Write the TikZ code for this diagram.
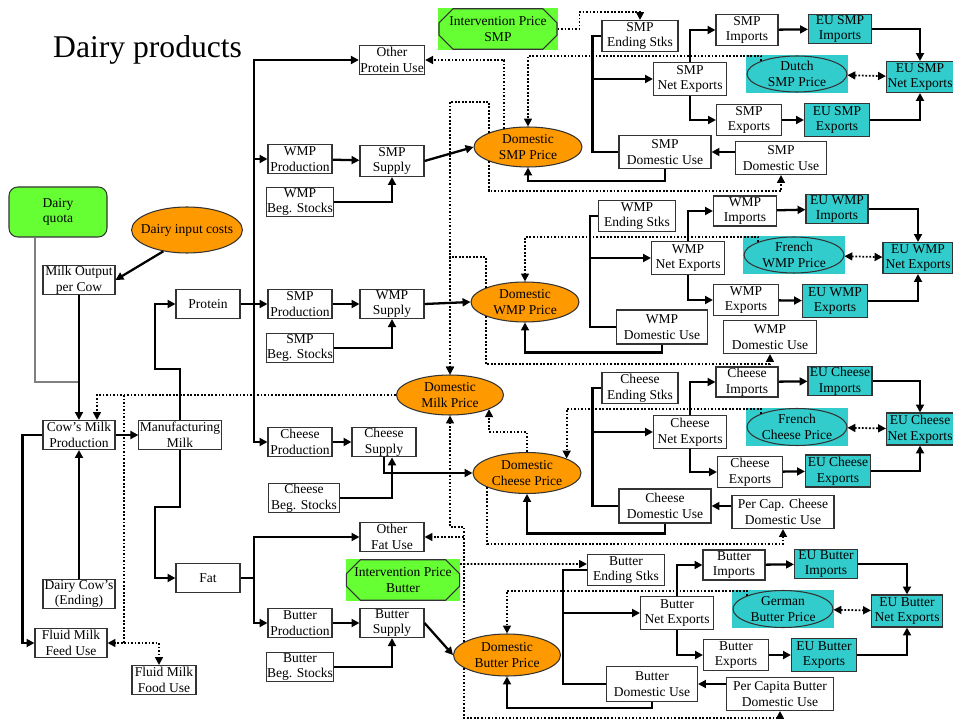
\documentclass[tikz,border=0pt]{standalone}
\usepackage{fontspec}
\setmainfont{Liberation Serif}
\usetikzlibrary{shapes.geometric,shapes.misc,arrows.meta,calc,backgrounds}
\definecolor{quotagreen}{HTML}{66FF33}
\definecolor{priceorange}{HTML}{FF9900}
\definecolor{euteal}{HTML}{33CCCC}
\begin{document}
\begin{tikzpicture}[x=0.02cm, y=-0.02cm,
  font=\fontsize{7.7}{8.9}\selectfont,
  >={Triangle[length=4.5pt,width=4.5pt]},
  boxw/.style={minimum width=#1*0.02cm},
  boxh/.style={minimum height=#1*0.02cm},
  box/.style={draw=black!80, line width=0.6pt, fill=white, align=center, inner sep=0.5pt, minimum width=1.28cm, minimum height=0.58cm},
  eubox/.style={box, fill=euteal},
  price/.style={ellipse, draw=black!80, line width=0.6pt, fill=priceorange, align=center, inner sep=0pt, minimum width=2.16cm, minimum height=0.8cm},
  forprice/.style={price, fill=euteal, minimum width=2cm, minimum height=0.72cm},
  intv/.style={chamfered rectangle, chamfered rectangle xsep=4pt, chamfered rectangle ysep=4pt, draw=black!80, line width=0.6pt, fill=quotagreen, align=center, inner sep=0.5pt, minimum height=0.7cm},
  flow/.style={->, line width=1.3pt},
  link/.style={line width=1.3pt},
  dotflow/.style={->, line width=1pt, densely dotted},
  dotboth/.style={<->, line width=1pt, densely dotted}]
\useasboundingbox (0,0) rectangle (953,719);
\node[font=\fontsize{18}{20}\selectfont, anchor=west] (title) at (47,50) {Dairy products};
\node[box, rounded corners=5pt, fill=quotagreen, boxw=98, boxh=50] (quota) at (58,212) {Dairy\\quota};
\node[price, inner xsep=-4pt, boxh=46] (inputc) at (187,230) {Dairy input costs};
\node[box, boxw=72] (milkout) at (79,280) {Milk Output\\per Cow};
\node[box, boxw=72] (cowmilk) at (79,435) {Cow’s Milk\\Production};
\node[box, boxw=78] (manmilk) at (180,435) {Manufacturing\\Milk};
\node[box, boxw=72] (cows) at (79,594) {Dairy Cow’s\\(Ending)};
\node[box, boxw=72] (feed) at (71,643) {Fluid Milk\\Feed Use};
\node[box] (food) at (164,680) {Fluid Milk\\Food Use};
\node[box] (protein) at (208,304) {Protein};
\node[box] (fat) at (208,578) {Fat};
\node[box] (othprot) at (392,60) {Other\\Protein Use};
\node[box] (wmpprod) at (300,159) {WMP\\Production};
\node[box] (wmpbeg) at (300,202) {WMP\\Beg. Stocks};
\node[box, boxh=31] (smpsup) at (392,161) {SMP\\Supply};
\node[box] (smpprod) at (300,304) {SMP\\Production};
\node[box] (smpbeg) at (300,348) {SMP\\Beg. Stocks};
\node[box] (wmpsup) at (392,304) {WMP\\Supply};
\node[box] (chsprod) at (300,442) {Cheese\\Production};
\node[box] (chssup) at (384,442) {Cheese\\Supply};
\node[box, boxw=71] (chsbeg) at (304,498) {Cheese\\Beg. Stocks};
\node[box] (othfat) at (392,537) {Other\\Fat Use};
\node[box] (butprod) at (300,623) {Butter\\Production};
\node[box] (butsup) at (392,623) {Butter\\Supply};
\node[box] (butbeg) at (300,667) {Butter\\Beg. Stocks};
\node[intv, boxw=118] (ivsmp) at (498,29) {Intervention Price\\SMP};
\node[intv, boxw=97] (ivbut) at (403,580) {Intervention Price\\Butter};
\node[price] (psmp) at (528,147) {Domestic\\SMP Price};
\node[price] (pwmp) at (525,302) {Domestic\\WMP Price};
\node[price, boxw=107] (pmilk) at (450,395) {Domestic\\Milk Price};
\node[price, boxh=41] (pchs) at (527,473) {Domestic\\Cheese Price};
\node[price, boxw=107, boxh=42] (pbut) at (507,655) {Domestic\\Butter Price};
\node[box, boxw=76, boxh=31] (smpend) at (640,36) {SMP\\Ending Stks};
\node[box, boxw=62, boxh=31] (smpimp) at (747,30) {SMP\\Imports};
\node[eubox, boxw=63, boxh=28] (eusmpimp) at (840,29) {EU SMP\\Imports};
\node[box, boxw=73, boxh=33] (smpnet) at (690,79) {SMP\\Net Exports};
\node[forprice] (dutch) at (797,74) {Dutch\\SMP Price};
\node[eubox, boxw=67, boxh=31] (eusmpnet) at (920,77) {EU SMP\\Net Exports};
\node[box, boxw=65, boxh=31] (smpexp) at (749,120) {SMP\\Exports};
\node[eubox, boxw=65, boxh=33] (eusmpexp) at (837,120) {EU SMP\\Exports};
\node[box, boxw=92, boxh=33] (smpuse) at (665,152) {SMP\\Domestic Use};
\node[box, boxw=91, boxh=33] (smpuse2) at (781,158) {SMP\\Domestic Use};
\node[box, boxw=77, boxh=31] (wmpend) at (637,216) {WMP\\Ending Stks};
\node[box, boxw=63, boxh=30] (wmpimp) at (745,211) {WMP\\Imports};
\node[eubox, boxw=62] (euwmpimp) at (837,209) {EU WMP\\Imports};
\node[box, boxw=73, boxh=33] (wmpnet) at (688,258) {WMP\\Net Exports};
\node[forprice] (frwmp) at (794,255) {French\\WMP Price};
\node[eubox, boxw=70, boxh=31] (euwmpnet) at (918,258) {EU WMP\\Net Exports};
\node[box, boxw=65, boxh=31] (wmpexp) at (746,300) {WMP\\Exports};
\node[eubox, boxw=65, boxh=33] (euwmpexp) at (835,301) {EU WMP\\Exports};
\node[box, boxw=91, boxh=34] (wmpuse) at (662,327) {WMP\\Domestic Use};
\node[box, boxw=93, boxh=33] (wmpuse2) at (770,337) {WMP\\Domestic Use};
\node[box, boxw=76, boxh=31] (chsend) at (640,388) {Cheese\\Ending Stks};
\node[box, boxw=62, boxh=30] (chsimp) at (747,382) {Cheese\\Imports};
\node[eubox, boxw=64] (euchsimp) at (840,381) {EU Cheese\\Imports};
\node[box, boxw=73, boxh=33] (chsnet) at (690,432) {Cheese\\Net Exports};
\node[forprice, boxh=37] (frchs) at (797,427) {French\\Cheese Price};
\node[eubox, boxw=67, boxh=32] (euchsnet) at (920,429) {EU Cheese\\Net Exports};
\node[box, boxw=65, boxh=31] (chsexp) at (750,472) {Cheese\\Exports};
\node[eubox, boxw=65, boxh=32] (euchsexp) at (838,471) {EU Cheese\\Exports};
\node[box, boxw=92, boxh=34] (chsuse) at (665,506) {Cheese\\Domestic Use};
\node[box, boxw=102, boxh=33] (chsuse2) at (783,512) {Per Cap. Cheese\\Domestic Use};
\node[box, boxw=77, boxh=31] (butend) at (626,570) {Butter\\Ending Stks};
\node[box, boxw=62, boxh=30] (butimp) at (734,565) {Butter\\Imports};
\node[eubox, boxw=63] (eubutimp) at (826,564) {EU Butter\\Imports};
\node[box, boxw=73, boxh=33] (butnet) at (677,613) {Butter\\Net Exports};
\node[forprice, boxh=37] (gerbut) at (783,609) {German\\Butter Price};
\node[eubox, boxw=71, boxh=32] (eubutnet) at (907,611) {EU Butter\\Net Exports};
\node[box, boxw=65, boxh=31] (butexp) at (736,655) {Butter\\Exports};
\node[eubox, boxw=65, boxh=33] (eubutexp) at (824,655) {EU Butter\\Exports};
\node[box, boxw=91, boxh=35] (butuse) at (652,684) {Butter\\Domestic Use};
\node[box, boxw=107, boxh=33] (butuse2) at (780,694) {Per Capita Butter\\Domestic Use};
\begin{scope}[on background layer]
\foreach \n in {ivsmp,ivbut} \fill[quotagreen] (\n.west |- \n.north) rectangle (\n.east |- \n.south);
\foreach \n in {dutch,frwmp,frchs,gerbut} \fill[euteal] (\n.west |- \n.north) rectangle (\n.east |- \n.south);
\end{scope}
\draw[gray, line width=0.6pt] (quota.south) ++(-23,0) |- (milkout.south |- 0,382);
\draw[flow] (inputc.222) -- (milkout.east);
\draw[flow] (milkout) -- (cowmilk);
\draw[flow] (cows) -- (cowmilk);
\draw[flow] (cowmilk) -- (manmilk);
\draw[flow] (cowmilk.west) -- ++(-20,0) |- (feed.west);
\draw[flow] (manmilk.north) -- ++(0,-51) -- ++(-25,0) |- (protein.west);
\draw[flow] (manmilk.south) -- ++(0,57) -- ++(-25,0) |- (fat.west);
\coordinate (milkbr) at (124,395);
\draw[dotflow] (pmilk.west) -| ($(cowmilk.north)+(18,0)$);
\draw[dotflow] (milkbr) |- (feed.east);
\draw[dotflow] (feed.east -| milkbr) -| ($(food.north)+(-5,0)$);
\coordinate (ptrunk) at (254,304);
\draw[flow] (protein) -- (smpprod);
\draw[flow] (ptrunk) |- (othprot.west);
\draw[flow] (ptrunk) |- (wmpprod.west);
\draw[flow] (ptrunk) |- (chsprod.west);
\draw[flow] (wmpprod) -- (smpsup);
\draw[flow] (wmpbeg.east) -| (smpsup.south);
\draw[flow] (smpsup.east) -- (psmp.west);
\draw[flow] (smpprod) -- (wmpsup);
\draw[flow] (smpbeg.east) -| (wmpsup.south);
\draw[flow] (wmpsup.east) -- (pwmp.west);
\draw[flow] (chsprod) -- (chssup);
\draw[flow] (chsbeg.east) -| ($(chssup.south)+(8,0)$);
\draw[flow] (chssup.south) |- (pchs.west);
\coordinate (ftrunk) at (254,578);
\draw[link] (fat.east) -- (ftrunk);
\draw[flow] (ftrunk) |- (othfat.west);
\draw[flow] (ftrunk) |- (butprod.west);
\draw[flow] (butprod) -- (butsup);
\draw[flow] (butbeg.east) -| (butsup.south);
\draw[flow] (butsup.east) -- (pbut.west);
\draw[link] (smpend.west) -- ++(-9,0) |- (smpuse.west);
\draw[flow] (smpend.west) ++(-9,0) |- (smpnet.west);
\draw[flow] (smpnet.north) |- (smpimp.west);
\draw[flow] (smpnet.south) |- (smpexp.west);
\draw[flow] (smpimp) -- (eusmpimp);
\draw[flow] (eusmpimp.east) -| (eusmpnet.north);
\draw[flow] (smpexp) -- (eusmpexp);
\draw[flow] (eusmpexp.east) -| (eusmpnet.south);
\draw[dotboth] (dutch) -- (eusmpnet);
\draw[flow] (smpuse2.west |- smpuse) -- (smpuse);
\draw[flow] (smpuse.south) -- ++(0,12) -| (psmp.south);
\draw[dotflow] (ivsmp.east) -- ++(22,0) |- ($(smpend.north)+(0,-8)$) -- (smpend.north);
\draw[dotflow] (psmp.142) |- (othprot.east);
\draw[dotflow] (dutch.160) -- ++(0,-5) -| (psmp.north);
\draw[dotflow] (psmp.200) |- ($(smpuse2.south)+(0,16)$) -- (smpuse2.south);
\draw[dotflow] (psmp.160) -- ++(0,-31) -| (pmilk.north);
\draw[link] (wmpend.west) -- ++(-8,0) |- (wmpuse.west);
\draw[flow] (wmpend.west) ++(-8,0) |- (wmpnet.west);
\draw[flow] (wmpnet.north) |- (wmpimp.west);
\draw[flow] (wmpnet.south) |- (wmpexp.west);
\draw[flow] (wmpimp) -- (euwmpimp);
\draw[flow] (euwmpimp.east) -| (euwmpnet.north);
\draw[flow] (wmpexp) -- (euwmpexp);
\draw[flow] (euwmpexp.east) -| (euwmpnet.south);
\draw[dotboth] (frwmp) -- (euwmpnet);
\draw[flow] (wmpuse.south) -- ++(0,8) -| (pwmp.south);
\draw[dotflow] (pwmp.160) -- ++(0,-31) -| (pmilk.north);
\draw[dotflow] (pwmp.200) |- ($(wmpuse2.south)+(0,10)$) -- (wmpuse2.south);
\draw[dotflow] (frwmp.160) -- ++(0,-5) -| (pwmp.north);
\draw[link] (chsend.west) -- ++(-9,0) |- (chsuse.west);
\draw[flow] (chsend.west) ++(-9,0) |- (chsnet.west);
\draw[flow] (chsnet.north) |- (chsimp.west);
\draw[flow] (chsnet.south) |- (chsexp.west);
\draw[flow] (chsimp) -- (euchsimp);
\draw[flow] (euchsimp.east) -| (euchsnet.north);
\draw[flow] (chsexp) -- (euchsexp);
\draw[flow] (euchsexp.east) -| (euchsnet.south);
\draw[dotboth] (frchs) -- (euchsnet);
\draw[flow] (chsuse2.west |- chsuse) -- (chsuse);
\draw[flow] (chsuse.south) -- ++(0,10) -| (pchs.south);
\draw[dotflow] (frchs.160) -- ++(0,-5) -| (pchs.20);
\draw[dotflow] (pchs.200) |- ($(chsuse2.south)+(0,15)$) -- (chsuse2.south);
\draw[dotflow] (pchs.north) -- ++(0,-20) -| (pmilk.-20);
\draw[link] (butend.west) -- ++(-24,0) |- (butuse.west);
\draw[flow] (butend.west) ++(-24,0) |- (butnet.west);
\draw[flow] (butnet.north) |- (butimp.west);
\draw[flow] (butnet.south) |- (butexp.west);
\draw[flow] (butimp) -- (eubutimp);
\draw[flow] (eubutimp.east) -| (eubutnet.north);
\draw[flow] (butexp) -- (eubutexp);
\draw[flow] (eubutexp.east) -| (eubutnet.south);
\draw[dotboth] (gerbut) -- (eubutnet);
\draw[flow] (butuse2.west |- butuse) -- (butuse);
\draw[flow] (butuse.south) -- ++(0,6) -| (pbut.south);
\draw[dotflow] (pbut.163) -- ++(0,-115) -| (pmilk.south);
\draw[dotflow] (pbut.163) |- (othfat.east);
\draw[dotflow] (pbut.197) |- ($(butuse2.south)+(0,7)$) -- (butuse2.south);
\draw[dotflow] (gerbut.160) -- ++(0,-5) -| (pbut.north);
\draw[dotflow] ([yshift=0.32cm]ivbut.east) -- ([yshift=0.12cm]butend.west);
\end{tikzpicture}
\end{document}
